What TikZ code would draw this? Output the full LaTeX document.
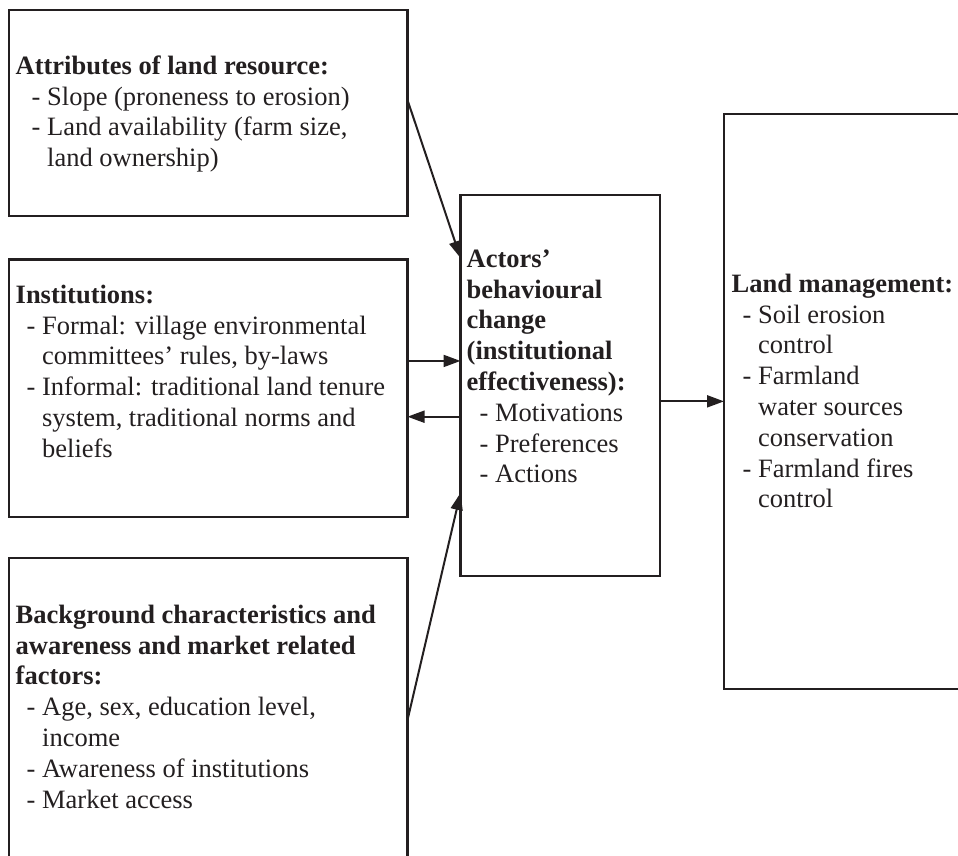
\documentclass[tikz,border=0pt]{standalone}
\usepackage{fontspec}
\setmainfont{Liberation Serif}
\usetikzlibrary{arrows.meta}
\definecolor{ink}{HTML}{231F20}
\newlength\itmind
% list item and its continuation line
\newcommand\itm[1]{\hspace*{\itmind}-\ #1}
\newcommand\cnt[1]{\hspace*{\itmind}\hphantom{-\ }#1}
% fixed height of the first line of each text block
\newcommand\fl{\rule{0pt}{20pt}}

\begin{document}
\begin{tikzpicture}[x=1pt,y=-1pt,
  box/.style={draw=ink, line width=2.4pt, rectangle, inner sep=0pt,
    outer sep=0pt, anchor=north west},
  txt/.style={anchor=north west, inner sep=0pt, align=left, text=ink,
    font=\fontsize{26.5}{30.8}\selectfont\setlength\itmind{#1}},
  arr/.style={draw=ink, line width=2pt, -{Triangle[length=17pt,width=12pt]}}]

\useasboundingbox (0,0) rectangle (958,856);
\clip (0,0) rectangle (958,856);

% boxes
\node[box, minimum width=398.5pt, minimum height=206pt]   (b1) at (9,10) {};
\node[box, minimum width=398.5pt, minimum height=257.5pt] (b2) at (9,259.5) {};
\node[box, minimum width=398.5pt, minimum height=324pt]   (b3) at (9,558) {};
\node[box, minimum width=199.5pt, minimum height=381pt]   (cb) at (460.5,195) {};
\node[box, minimum width=270pt,   minimum height=574.7pt] (rb) at (724,114) {};

% texts
\node[txt=16pt] (t1) at (15.5,54) {\fl\textbf{Attributes of land resource:}\\
  \itm{Slope (proneness to erosion)}\\
  \itm{Land availability (farm size,}\\
  \cnt{land ownership)}};

\node[txt=11pt] (t2) at (15.5,283) {\fl\textbf{Institutions:}\\
  \itm{Formal: village environmental}\\
  \cnt{committees’ rules, by-laws}\\
  \itm{Informal: traditional land tenure}\\
  \cnt{system, traditional norms and}\\
  \cnt{beliefs}};

\node[txt=11pt] (t3) at (15.5,603) {\fl\textbf{Background characteristics and}\\
  \textbf{awareness and market related}\\
  \textbf{factors:}\\
  \itm{Age, sex, education level,}\\
  \cnt{income}\\
  \itm{Awareness of institutions}\\
  \itm{Market access}};

\node[txt=13pt] (tc) at (466.5,247) {\fl\textbf{Actors’}\\
  \textbf{behavioural}\\
  \textbf{change}\\
  \textbf{(institutional}\\
  \textbf{effectiveness):}\\
  \itm{Motivations}\\
  \itm{Preferences}\\
  \itm{Actions}};

\node[txt=11pt] (tr) at (731.5,272) {\fl\textbf{Land management:}\\
  \itm{Soil erosion}\\
  \cnt{control}\\
  \itm{Farmland}\\
  \cnt{water sources}\\
  \cnt{conservation}\\
  \itm{Farmland fires}\\
  \cnt{control}};

% connectors
\draw[arr] ([yshift=13pt]b1.east) -- ([yshift=127.5pt]cb.west);
\draw[arr] ([yshift=27.3pt]b2.east) coordinate (p2) -- (cb.west |- p2);
\draw[arr] ([yshift=-31.2pt]cb.west) coordinate (p3) -- (b2.east |- p3);
\draw[arr] (b3.east) -- ([yshift=-107.5pt]cb.west);
\draw[arr] (cb.east |- rb.west) -- (rb.west);
\end{tikzpicture}
\end{document}
